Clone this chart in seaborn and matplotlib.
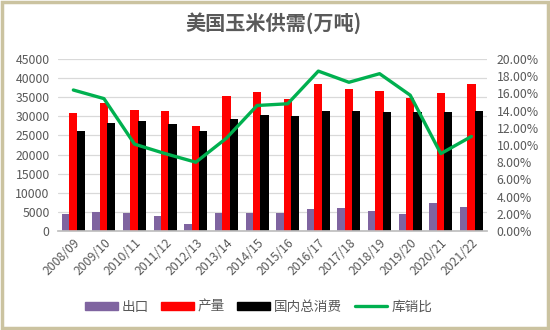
import numpy as np
import pandas as pd
import matplotlib
matplotlib.use("Agg")
import matplotlib.pyplot as plt
from matplotlib.patches import Rectangle
from matplotlib.lines import Line2D
from matplotlib.ticker import FuncFormatter
import seaborn as sns

years = ["2008/09", "2009/10", "2010/11", "2011/12", "2012/13", "2013/14", "2014/15",
         "2015/16", "2016/17", "2017/18", "2018/19", "2019/20", "2020/21", "2021/22"]
exports = [4540, 4970, 4620, 3840, 1740, 4800, 4800, 4710, 5670, 6100, 5150, 4360, 7240, 6370]
production = [30900, 33400, 31600, 31500, 27400, 35300, 36300, 34500, 38600, 37200, 36700, 34700, 36200, 38600]
consumption = [26100, 28300, 28700, 28000, 26300, 29400, 30400, 30000, 31500, 31500, 31200, 31100, 31200, 31500]
stock_ratio = [16.4, 15.4, 10.1, 9.0, 8.0, 10.8, 14.6, 14.8, 18.6, 17.3, 18.3, 15.8, 9.0, 11.0]

series_names = ["出口", "产量", "国内总消费"]
ratio_name = "库销比"
colors = ["#7f64a0", "#ff0000", "#000000"]
line_color = "#00b04f"
text_color = "#595959"

sns.set_theme(style="white")
plt.rcParams["font.family"] = ["Noto Sans CJK SC", "DejaVu Sans"]

df = pd.DataFrame({
    "year": years * 3,
    "value": exports + production + consumption,
    "series": sum([[n] * len(years) for n in series_names], []),
})

fig = plt.figure(figsize=(5.5, 3.3), dpi=100)
ax = fig.add_axes([0.1055, 0.30, 0.7795, 0.521])

sns.barplot(data=df, x="year", y="value", hue="series", hue_order=series_names,
            palette=colors, width=0.72, ax=ax, legend=False, saturation=1)
# slight overlap between neighbouring bars
for p in ax.patches:
    w = p.get_width()
    p.set_x(p.get_x() - w * 0.06)
    p.set_width(w * 1.12)
    p.set_edgecolor("none")

tick_fs = 8.8
ax.set_ylim(0, 45000)
ax.set_yticks(np.arange(0, 45001, 5000))
ax.set_xlim(-0.5, len(years) - 0.5)
ax.grid(axis="y", color="#d9d9d9", linewidth=0.9)
ax.set_axisbelow(True)
ax.set_xlabel("")
ax.set_ylabel("")
for s in ["top", "right", "left"]:
    ax.spines[s].set_visible(False)
ax.spines["bottom"].set_color("#bfbfbf")
ax.tick_params(axis="y", length=0, labelsize=tick_fs, labelcolor=text_color, pad=6)
ax.tick_params(axis="x", which="major", length=0, labelsize=tick_fs, labelcolor=text_color, pad=4)
ax.set_xticks(np.arange(-0.5, len(years)), minor=True)
ax.tick_params(axis="x", which="minor", length=4, color="#bfbfbf", width=0.8)
ax.set_xticks(range(len(years)))
ax.set_xticklabels(years, rotation=45, ha="right", rotation_mode="anchor")

ax2 = ax.twinx()
sns.lineplot(x=np.arange(len(years)), y=stock_ratio, color=line_color, linewidth=2.4,
             ax=ax2, legend=False)
ax2.set_ylim(0, 20)
ax2.set_yticks(np.arange(0, 20.01, 2))
ax2.yaxis.set_major_formatter(FuncFormatter(lambda v, _: f"{v:.2f}%"))
ax2.tick_params(axis="y", length=0, labelsize=tick_fs, labelcolor=text_color, pad=7)
ax2.set_ylabel("")
for s in ["top", "right", "left", "bottom"]:
    ax2.spines[s].set_visible(False)
ax2.set_xlim(-0.5, len(years) - 0.5)

fig.text(0.497, 0.93, "美国玉米供需(万吨)", ha="center", va="center",
         fontsize=14.5, fontweight="bold", color=text_color)

handles = [Rectangle((0, 0), 1, 1, color=c) for c in colors]
handles.append(Line2D([0], [0], color=line_color, linewidth=2.4))
fig.legend(handles, series_names + [ratio_name], loc="center", bbox_to_anchor=(0.47, 0.07),
           ncol=4, frameon=False, fontsize=9.8, handlelength=2.4, handleheight=0.6,
           columnspacing=0.9, handletextpad=0.3, labelcolor=text_color)

fig.patches.append(Rectangle((0.003, 0.005), 0.994, 0.99, transform=fig.transFigure,
                             fill=False, edgecolor="#cbc3a0", linewidth=2.5))

fig.savefig("out.png", dpi=100, facecolor="white")
